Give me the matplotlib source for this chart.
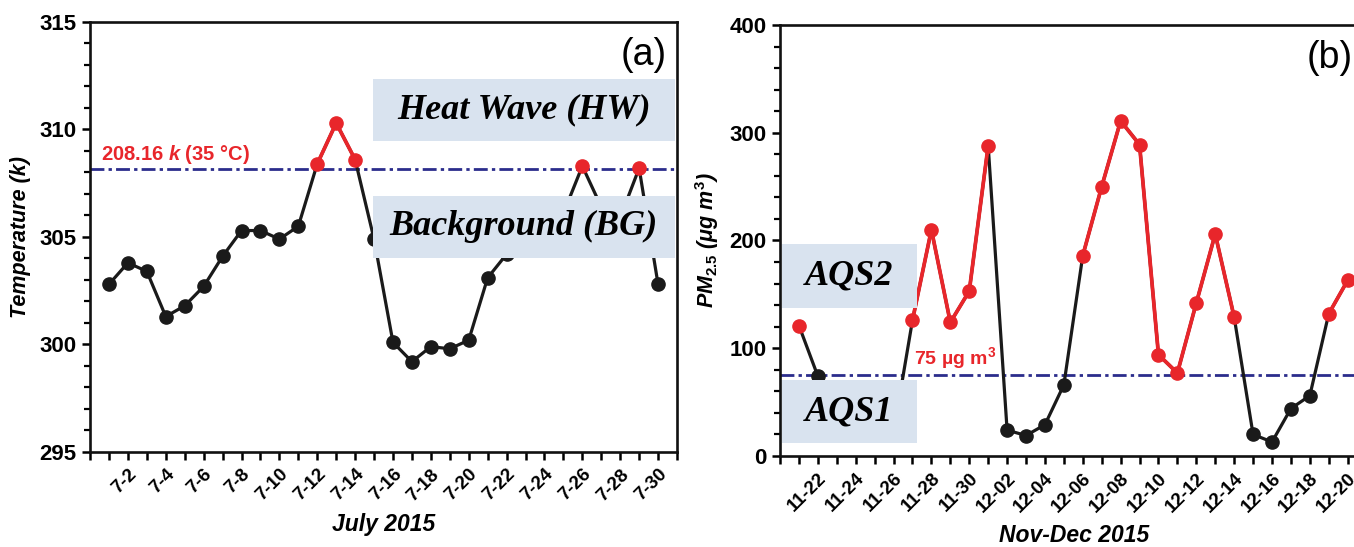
import numpy as np
import matplotlib
matplotlib.use("Agg")
import matplotlib.pyplot as plt
from matplotlib.patches import Rectangle

plt.rcParams['font.family'] = ['Liberation Sans', 'DejaVu Sans']
plt.rcParams['mathtext.fontset'] = 'custom'
plt.rcParams['mathtext.it'] = 'Liberation Sans:italic:bold'
plt.rcParams['mathtext.rm'] = 'Liberation Sans:bold'
plt.rcParams['mathtext.bf'] = 'Liberation Sans:bold'

# ----- data -----
# (a) daily temperature, July 2015 (day of month)
jul_days = list(range(1, 31))
jul_temp = [302.8, 303.8, 303.4, 301.3, 301.8, 302.7, 304.1, 305.3, 305.3, 304.9,
            305.5, 308.4, 310.3, 308.6, 304.9, 300.1, 299.2, 299.9, 299.8, 300.2,
            303.1, 304.2, 305.3, 305.8, 306.1, 308.3, 306.4, 305.9, 308.2, 302.8]
temp_threshold = 308.16

# (b) daily PM2.5, 11-21 .. 12-20
nd_dates = ['11-21', '11-22', '11-23', '11-24', '11-25', '11-26', '11-27', '11-28',
            '11-29', '11-30', '12-01', '12-02', '12-03', '12-04', '12-05', '12-06',
            '12-07', '12-08', '12-09', '12-10', '12-11', '12-12', '12-13', '12-14',
            '12-15', '12-16', '12-17', '12-18', '12-19', '12-20']
pm25 = [121, 74, 50, 40, 30, 22, 126, 210, 124, 153, 288, 24, 19, 29, 66, 186,
        250, 311, 289, 94, 77, 142, 206, 129, 20, 13, 44, 56, 132, 163]
pm_threshold = 75

RED = '#e8262b'
BLACK = '#1a1a1a'
NAVY = '#2b2d8c'
BOX = '#d9e3ef'


def draw_series(ax, x, y, thr):
    x = np.asarray(x)
    y = np.asarray(y, dtype=float)
    hot = y > thr
    ax.plot(x, y, color=BLACK, lw=2.3, zorder=3)
    for i in range(len(x) - 1):
        if hot[i] and hot[i + 1]:
            ax.plot(x[i:i + 2], y[i:i + 2], color=RED, lw=2.7, zorder=4)
    ax.plot(x[~hot], y[~hot], 'o', color=BLACK, ms=9.5, zorder=5)
    ax.plot(x[hot], y[hot], 'o', color=RED, ms=9.5, zorder=5)
    ax.axhline(thr, color=NAVY, lw=2.0, ls=(0, (5, 1.5, 1.2, 1.5)), zorder=2)


def style_axes(ax):
    for s in ax.spines.values():
        s.set_linewidth(1.9)
        s.set_color('#111111')
    ax.tick_params(which='major', direction='out', length=6, width=1.8,
                   labelsize=16)
    ax.tick_params(which='minor', direction='out', length=4, width=1.6)
    ax.tick_params(axis='x', which='both', length=6, width=1.8, labelsize=13.5,
                   pad=4)
    for lab in ax.get_yticklabels():
        lab.set_fontweight('bold')
    for lab in ax.get_xticklabels():
        lab.set_fontweight('bold')
        lab.set_rotation(45)
        lab.set_ha('right')
        lab.set_va('top')
        lab.set_rotation_mode('anchor')


def label_box(ax, x, y, w, h, text):
    ax.add_patch(Rectangle((x, y), w, h, transform=ax.transAxes,
                           facecolor=BOX, edgecolor='none', zorder=6,
                           clip_on=False))
    ax.text(x + w / 2, y + h / 2, text, transform=ax.transAxes,
            ha='center', va='center', fontsize=26, family='Liberation Serif',
            fontweight='bold', style='italic', zorder=7)


fig = plt.figure(figsize=(13.54, 5.47), dpi=100)

# ----- (a) temperature -----
ax1 = fig.add_axes([0.0665, 0.1737, 0.4335, 0.7861])
draw_series(ax1, jul_days, jul_temp, temp_threshold)
ax1.set_xlim(0, 31)
ax1.set_ylim(295, 315)
ax1.set_yticks(np.arange(295, 316, 5))
ax1.set_yticks(np.arange(295, 316, 1), minor=True)
ax1.set_xticks(jul_days[1::2])
ax1.set_xticklabels(['7-%d' % d for d in jul_days[1::2]])
ax1.set_xticks(range(0, 32), minor=True)
style_axes(ax1)
ax1.set_ylabel('Temperature (k)', fontsize=15.5, fontweight='bold', style='italic',
               labelpad=6)
ax1.set_xlabel('July 2015', fontsize=16.5, fontweight='bold', style='italic',
               labelpad=6)
ax1.text(0.6, temp_threshold + 0.15, r'208.16 $k$ (35 °C)', color=RED,
         fontsize=14.5, fontweight='bold', va='bottom', ha='left', zorder=6)
ax1.text(0.983, 0.965, '(a)', transform=ax1.transAxes, ha='right', va='top',
         fontsize=27)
label_box(ax1, 0.482, 0.7233, 0.5145, 0.1442, 'Heat Wave (HW)')
label_box(ax1, 0.482, 0.4512, 0.5145, 0.1442, 'Background (BG)')

# ----- (b) PM2.5 -----
idx = np.arange(len(nd_dates))
ax2 = fig.add_axes([0.5761, 0.1664, 0.4339, 0.7879])
draw_series(ax2, idx, pm25, pm_threshold)
ax2.set_xlim(-0.95, 30.05)
ax2.set_ylim(0, 400)
ax2.set_yticks(np.arange(0, 401, 100))
ax2.set_yticks(np.arange(0, 401, 20), minor=True)
ax2.set_xticks(idx[1::2])
ax2.set_xticklabels(nd_dates[1::2])
ax2.set_xticks(range(-1, 31), minor=True)
style_axes(ax2)
ax2.set_ylabel(r'$PM_{2.5}$ ($\mu$g m$^{3}$)', fontsize=15.5, fontweight='bold',
               style='italic', labelpad=6)
ax2.set_xlabel('Nov-Dec 2015', fontsize=16.5, fontweight='bold', style='italic',
               labelpad=6)
ax2.text(6.1, pm_threshold + 4, r'75 µg m$^{3}$', color=RED, fontsize=14,
         fontweight='bold', va='bottom', ha='left', zorder=6)
ax2.text(0.975, 0.965, '(b)', transform=ax2.transAxes, ha='right', va='top',
         fontsize=27)
label_box(ax2, 0.003, 0.344, 0.2298, 0.148, 'AQS2')
label_box(ax2, 0.003, 0.030, 0.2298, 0.146, 'AQS1')

fig.savefig('out.png', dpi=100)
